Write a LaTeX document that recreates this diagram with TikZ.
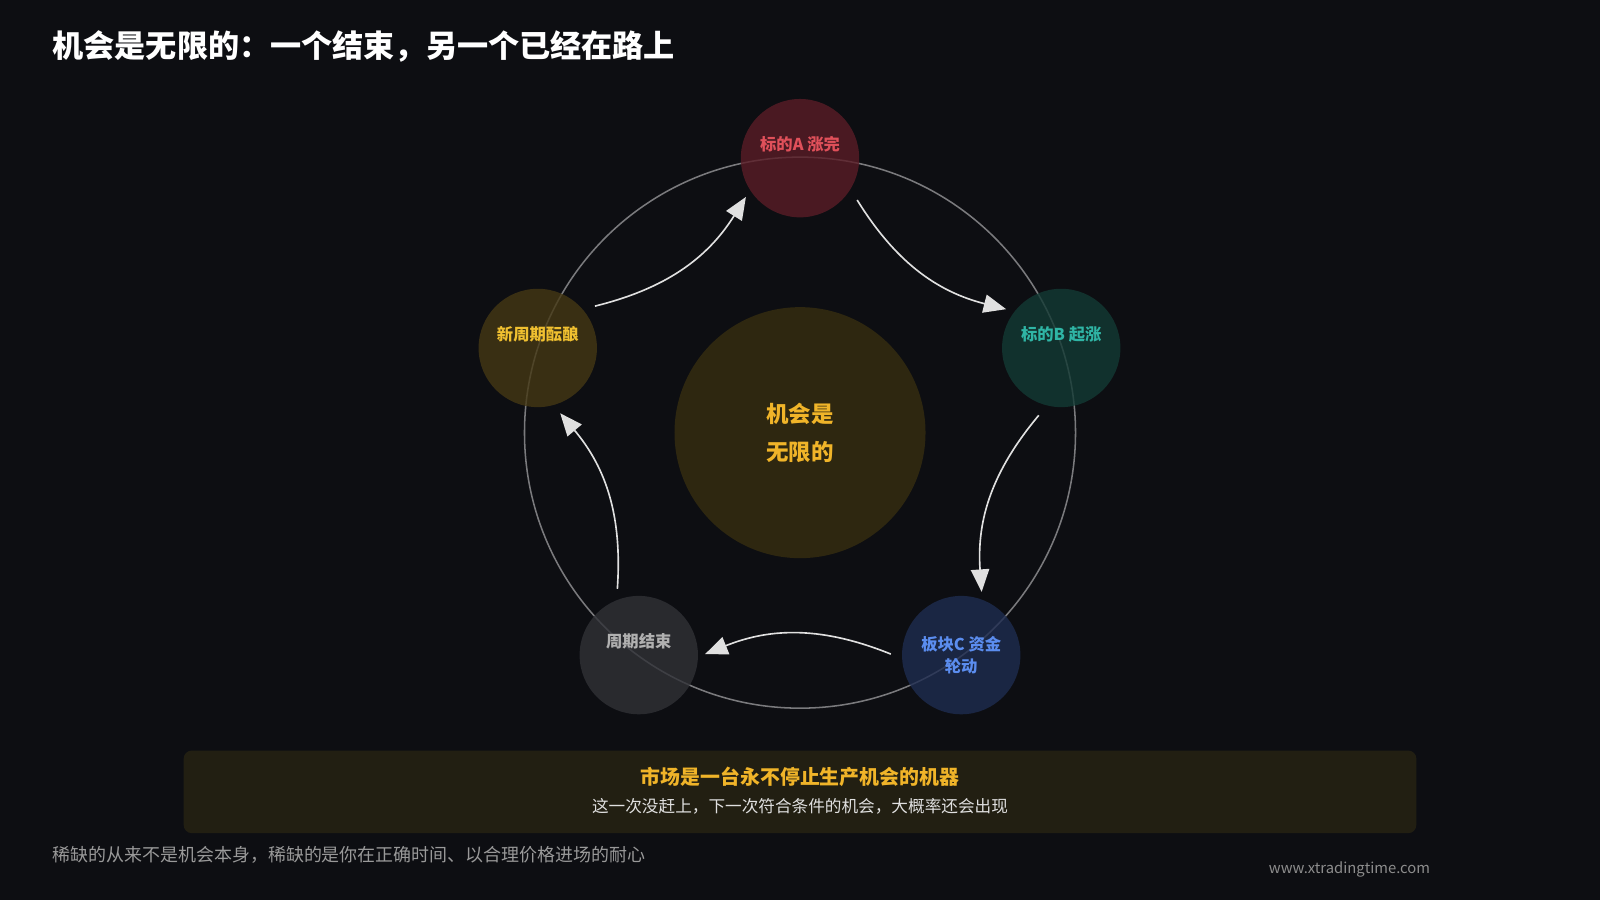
\documentclass[tikz,border=0pt]{standalone}
\usepackage{fontspec}
\setmainfont{Noto Sans CJK SC}
\usetikzlibrary{arrows.meta}
\definecolor{bg}{HTML}{0D0E12}
\definecolor{cfill}{HTML}{2E2710}\definecolor{gold}{HTML}{F0B429}
\definecolor{fa}{HTML}{5A1C26}\definecolor{ta}{HTML}{E0505A}
\definecolor{fb}{HTML}{133A34}\definecolor{tb}{HTML}{2FB5A5}
\definecolor{fc}{HTML}{1E2C50}\definecolor{tc}{HTML}{5B8DEF}
\definecolor{fd}{HTML}{303136}\definecolor{td}{HTML}{B0B0B0}
\definecolor{fe}{HTML}{453814}\definecolor{te}{HTML}{F0C030}
\definecolor{boxf}{HTML}{221F12}
\begin{document}
\begin{tikzpicture}[x=1pt,y=-1pt,
  stage/.style={circle,minimum size=116pt,inner sep=0pt,align=center,fill opacity=0.8,text opacity=1,font=\fontsize{16}{21}\selectfont\bfseries},
  flow/.style={draw=white!88!black,line width=1.6pt,-{Triangle[width=18pt,length=22pt]}}]
\fill[bg] (0,0) rectangle (1568,882);
\useasboundingbox (0,0) rectangle (1568,882);
\node[anchor=west,text=white,font=\fontsize{30.5}{36}\selectfont\bfseries] (title) at (48,46) {机会是无限的：一个结束，另一个已经在路上};
\node[circle,draw=white!45!bg,line width=1.5pt,minimum size=540pt,inner sep=0pt] (ring) at (784,424) {};
\node[circle,fill=cfill,minimum size=246pt,inner sep=0pt,align=center,text=gold,font=\fontsize{22}{37}\selectfont\bfseries] (core) at (784,424) {机会是\\无限的};
\node[stage,fill=fa,text=ta] (A) at (784,155) {标的A 涨完\\[8pt]};
\node[stage,fill=fb,text=tb] (B) at (1040,341) {标的B 起涨\\[8pt]};
\node[stage,fill=fc,text=tc] (C) at (942,642) {板块C 资金\\轮动};
\node[stage,fill=fd,text=td] (D) at (626,642) {周期结束\\[8pt]};
\node[stage,fill=fe,text=te] (E) at (527,341) {新周期酝酿\\[8pt]};
\coordinate (a1) at (840,196); \coordinate (b0) at (986,303);
\coordinate (b1) at (1018,407); \coordinate (c0) at (962,580);
\coordinate (c1) at (873,641); \coordinate (d0) at (691,641);
\coordinate (d1) at (605,577); \coordinate (e0) at (549,405);
\coordinate (e1) at (583,300); \coordinate (a0) at (731,193);
\draw[flow] (a1) to[bend right=22] (b0);
\draw[flow] (b1) to[bend right=22] (c0);
\draw[flow] (c1) to[bend right=22] (d0);
\draw[flow] (d1) to[bend right=22] (e0);
\draw[flow] (e1) to[bend right=22] (a0);
\node[fill=boxf,rounded corners=8pt,minimum width=1208pt,minimum height=81pt] (box) at (784,776) {};
\node[text=gold,font=\fontsize{19.5}{23}\selectfont\bfseries] (boxt) at (784,761) {市场是一台永不停止生产机会的机器};
\node[text=white!88!black,font=\fontsize{16.3}{19}\selectfont] (boxs) at (784,790) {这一次没赶上，下一次符合条件的机会，大概率还会出现};
\node[anchor=west,text=white!60!black,font=\fontsize{17.6}{21}\selectfont] (foot) at (48,838) {稀缺的从来不是机会本身，稀缺的是你在正确时间、以合理价格进场的耐心};
\node[anchor=east,text=white!55!black,font=\fontsize{14.5}{18}\selectfont] (url) at (1405,852) {www.xtradingtime.com};
\end{tikzpicture}
\end{document}
